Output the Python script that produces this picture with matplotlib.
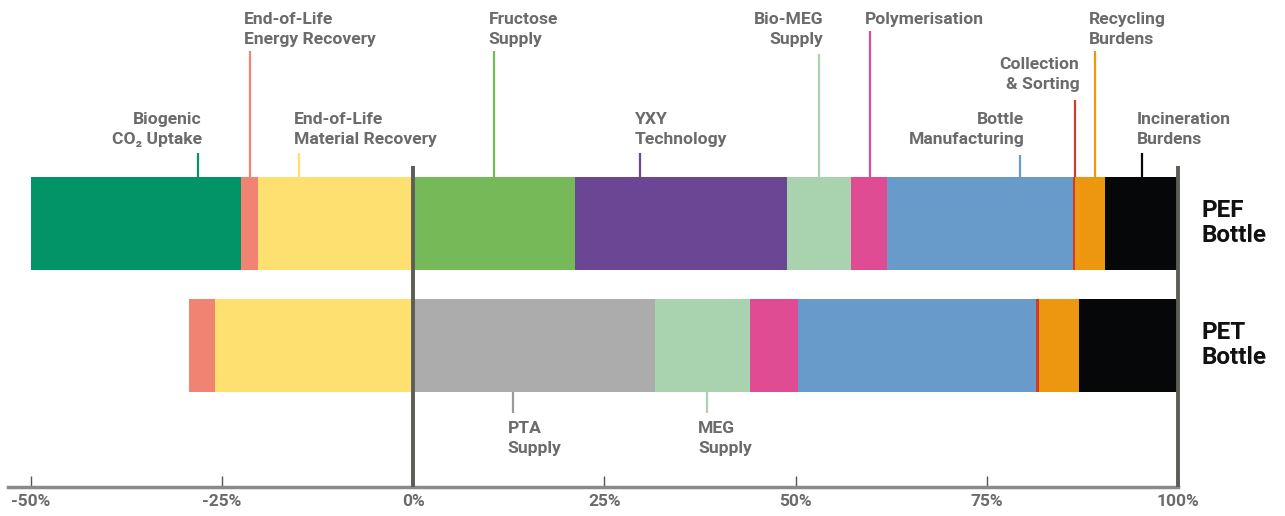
import matplotlib.pyplot as plt
import numpy as np

# contribution of each life-cycle stage, % of the PET bottle total
pef_stages = ['Biogenic CO₂ Uptake', 'End-of-Life Energy Recovery',
              'End-of-Life Material Recovery', 'Fructose Supply', 'YXY Technology',
              'Bio-MEG Supply', 'Polymerisation', 'Bottle Manufacturing',
              'Collection & Sorting', 'Recycling Burdens', 'Incineration Burdens']
pef_values = [-27.5, -2.2, -20.3, 21.2, 27.7, 8.4, 4.6, 24.4, 0.3, 3.8, 9.6]

pet_stages = ['End-of-Life Energy Recovery', 'End-of-Life Material Recovery',
              'PTA Supply', 'MEG Supply', 'Polymerisation', 'Bottle Manufacturing',
              'Collection & Sorting', 'Recycling Burdens', 'Incineration Burdens']
pet_values = [-3.4, -25.9, 31.6, 12.4, 6.3, 31.1, 0.4, 5.2, 13.0]

bottles = ['PEF\nBottle', 'PET\nBottle']
xticks = [-50, -25, 0, 25, 50, 75, 100]

colors = {
    'Biogenic CO₂ Uptake': '#029466',
    'End-of-Life Energy Recovery': '#F08372',
    'End-of-Life Material Recovery': '#FEE070',
    'Fructose Supply': '#75B958',
    'YXY Technology': '#6A4694',
    'Bio-MEG Supply': '#A9D3AE',
    'MEG Supply': '#A9D3AE',
    'PTA Supply': '#ACACAC',
    'Polymerisation': '#E04C93',
    'Bottle Manufacturing': '#699BCA',
    'Collection & Sorting': '#D13B2B',
    'Recycling Burdens': '#EC970F',
    'Incineration Burdens': '#060709',
}

FONT = ['Roboto', 'DejaVu Sans']
GREY = '#6b6b6b'

fig = plt.figure(figsize=(12.85, 5.16), dpi=100)
# axes spans figure width; y is in pixel rows from the top down to the axis line
ax = fig.add_axes([0, 29 / 516, 1, 487 / 516])
ax.set_xlim(-413 / 7.65, (1285 - 413) / 7.65)
ax.set_ylim(487, 0)

rows = [223, 345]
bar_h = 93


def draw_bar(stages, values, y):
    widths = np.abs(values)
    lefts = np.sum([v for v in values if v < 0]) + np.concatenate([[0], np.cumsum(widths)[:-1]])
    ax.barh(y, widths, left=lefts, height=bar_h,
            color=[colors[s] for s in stages], linewidth=0, zorder=2)


draw_bar(pef_stages, pef_values, rows[0])
draw_bar(pet_stages, pet_values, rows[1])

# labels: (text, leader x, leader y0, leader y1, text x, align, text top, colour key)
labels = [
    ('Biogenic\nCO₂ Uptake', -28.1, 153, 177, -27.6, 'right', 112, 'Biogenic CO₂ Uptake'),
    ('End-of-Life\nEnergy Recovery', -21.3, 51, 177, -22.1, 'left', 12, 'End-of-Life Energy Recovery'),
    ('End-of-Life\nMaterial Recovery', -14.9, 153, 177, -15.6, 'left', 112, 'End-of-Life Material Recovery'),
    ('Fructose\nSupply', 10.6, 51, 177, 9.9, 'left', 12, 'Fructose Supply'),
    ('YXY\nTechnology', 29.7, 153, 177, 29.0, 'left', 112, 'YXY Technology'),
    ('Bio-MEG\nSupply', 53.1, 54, 177, 53.6, 'right', 12, 'Bio-MEG Supply'),
    ('Polymerisation', 59.7, 31, 177, 59.1, 'left', 12, 'Polymerisation'),
    ('Collection\n& Sorting', 86.5, 100, 177, 87.1, 'right', 57, 'Collection & Sorting'),
    ('Recycling\nBurdens', 89.2, 51, 177, 88.4, 'left', 12, 'Recycling Burdens'),
    ('Bottle\nManufacturing', 79.3, 155, 177, 79.9, 'right', 112, 'Bottle Manufacturing'),
    ('Incineration\nBurdens', 95.3, 153, 177, 94.6, 'left', 112, 'Incineration Burdens'),
    ('PTA\nSupply', 13.1, 391, 413, 12.4, 'left', 421, 'PTA Supply'),
    ('MEG\nSupply', 38.4, 391, 413, 37.3, 'left', 421, 'MEG Supply'),
]

for text, lx, y0, y1, tx, ha, ty, key in labels:
    lc = '#9a9a9a' if key == 'PTA Supply' else colors[key]
    ax.plot([lx, lx], [y0, y1], color=lc, lw=1.6, zorder=1, solid_capstyle='butt')
    ax.text(tx, ty, text, ha=ha, va='top', fontsize=12.6, fontweight='bold',
            color=GREY, family=FONT, linespacing=1.38, multialignment=ha)

for b, y in zip(bottles, rows):
    ax.text(1201 / 7.65 - 413 / 7.65, y, b, ha='left', va='center', fontsize=17.5,
            fontweight='bold', color='#111111', family=FONT, linespacing=1.15)

# reference lines at 0% and 100%
ax.vlines([0, 100], 166, 487, color='#5d5d57', lw=2.8, zorder=3)

for side in ['top', 'left', 'right']:
    ax.spines[side].set_visible(False)
ax.spines['bottom'].set_color('#8a8a8a')
ax.spines['bottom'].set_linewidth(2.5)
ax.spines['bottom'].set_bounds(-405 / 7.65, 100)
ax.set_yticks([])
ax.set_xticks(xticks)
ax.set_xticklabels([f'{t}%' for t in xticks], family=FONT, fontsize=12.5,
                   fontweight='bold', color=GREY)
ax.tick_params(axis='x', direction='in', length=8, width=1, color='#555555', pad=5)

fig.savefig('out.png', dpi=100)
